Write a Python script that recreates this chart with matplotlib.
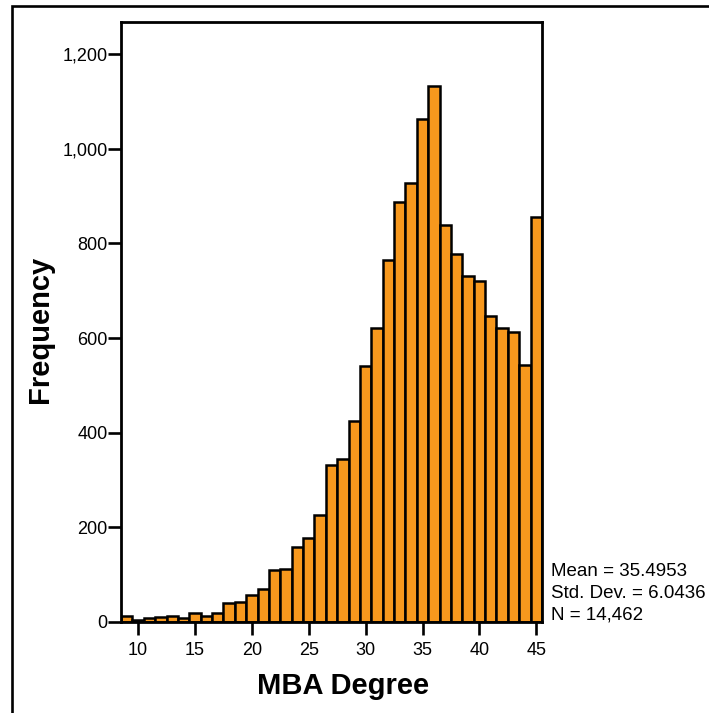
import matplotlib

matplotlib.use("Agg")
import matplotlib.pyplot as plt
from matplotlib.patches import Rectangle
from matplotlib.ticker import FuncFormatter

# Histogram of MBA degree age, one bin per year
bin_centers = list(range(9, 46))
counts = [
    12, 4, 8, 10, 12, 8, 18, 12, 20,            # 9-17
    40, 42, 57, 70, 110, 112, 159, 177, 226,    # 18-26
    332, 344, 425, 541, 621, 766, 888, 927, 1064,  # 27-35
    1133, 840, 778, 732, 721, 646, 622, 613, 544, 855,  # 36-45
]
x_ticks = [10, 15, 20, 25, 30, 35, 40, 45]
y_ticks = [0, 200, 400, 600, 800, 1000, 1200]
stats_lines = ["Mean = 35.4953", "Std. Dev. = 6.0436", "N = 14,462"]

BAR_COLOR = "#F7981D"
plt.rcParams["font.family"] = ["Liberation Sans", "DejaVu Sans"]

fig = plt.figure(figsize=(7.09, 7.13), dpi=100)
W, H = 709, 713

# outer frame
fig.patches.append(Rectangle((12 / W, -0.1), 1.2, 1 - 6.5 / H + 0.1,
                             transform=fig.transFigure, fill=False,
                             edgecolor="black", linewidth=1.9))

ax = fig.add_axes([121 / W, 1 - 622 / H, 421 / W, 600 / H])
ax.bar(bin_centers, counts, width=1.0, color=BAR_COLOR,
       edgecolor="black", linewidth=1.8)

ax.set_xlim(8.5, 45.5)
ax.set_ylim(0, 1268)
ax.set_xticks(x_ticks)
ax.set_yticks(y_ticks)
ax.yaxis.set_major_formatter(FuncFormatter(lambda v, _: f"{int(v):,}"))
ax.tick_params(axis="both", direction="out", length=9.5, width=1.9,
               labelsize=13, colors="black")
ax.tick_params(axis="x", pad=5)
ax.tick_params(axis="y", pad=0)
for s in ax.spines.values():
    s.set_linewidth(2.0)

ax.set_xlabel("MBA Degree", fontsize=21, fontweight="bold")
ax.set_ylabel("Frequency", fontsize=21, fontweight="bold")
ax.xaxis.set_label_coords(0.527, -0.083)
ax.yaxis.set_label_coords(-0.159, 0.488)

for i, line in enumerate(stats_lines):
    fig.text(551 / W, 1 - (572 + 21.5 * i) / H, line, fontsize=13.5,
             va="center", ha="left")

fig.savefig("out.png", dpi=100)
